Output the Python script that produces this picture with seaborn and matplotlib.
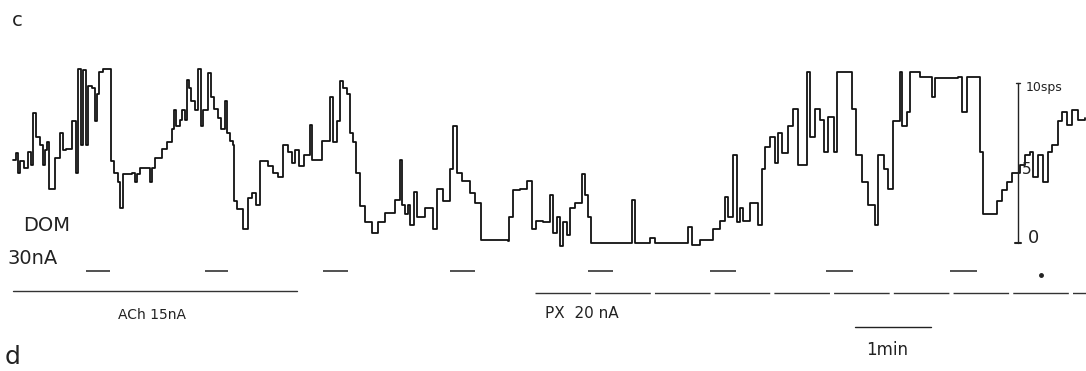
import numpy as np
import pandas as pd
import matplotlib
matplotlib.use("Agg")
import matplotlib.pyplot as plt
import seaborn as sns

# ratemeter trace: time (s) at each step, firing rate (spikes/s) from that time on
t_sec = [0, 2.4, 3.9, 5.5, 8.7, 11.8, 14.2, 15.8, 18.2, 21.3, 23.7, 25.3, 26.8, 28.4,
         33.2, 37.1, 39.5, 41.8, 46.6, 49.7, 51.3, 53.7, 55.3, 57.6, 59.2, 62.4, 64.7,
         66.3, 67.9, 71.1, 77.4, 79.7, 82.9, 84.5, 86.8, 90.0, 93.9, 96.3, 97.9, 100.3,
         108.2, 109.7, 112.1, 117.6, 121.6, 125.5, 127.1, 128.7, 131.8, 133.4, 135.8,
         137.4, 138.9, 140.5, 143.7, 146.1, 148.4, 150.0, 153.9, 156.3, 158.7, 161.8,
         164.2, 167.4, 168.9, 171.3, 173.7, 174.5, 176.8, 181.6, 185.5, 188.7, 191.8,
         195.0, 201.3, 205.3, 209.2, 213.2, 217.1, 220.3, 222.6, 225.8, 229.7, 234.5,
         236.1, 244.0, 250.3, 252.6, 255.8, 258.2, 260.5, 263.7, 266.1, 268.4, 270.8,
         274.0, 277.9, 283.4, 288.2, 293.7, 301.6, 305.5, 307.1, 309.5, 311.8, 313.4,
         316.6, 318.9, 325.3, 331.6, 334.7, 339.5, 345.0, 347.4, 350.5, 354.5, 360.8,
         364.7, 369.5, 390.8, 391.6, 394.7, 400.3, 405.8, 409.7, 412.9, 418.4, 423.9,
         426.3, 429.5, 431.8, 434.2, 437.4, 439.7, 443.7, 449.2, 451.6, 453.9, 456.3,
         488.7, 491.1, 502.9, 506.8, 532.9, 536.1, 542.4, 552.6, 558.2, 562.1, 564.5,
         568.4, 571.6, 573.9, 576.3, 581.8, 588.2, 591.3, 593.7, 597.6, 601.6, 603.9,
         607.1, 611.8, 615.8, 619.7, 626.8, 629.2, 633.2, 637.1, 640.3, 643.4, 648.2,
         650.5, 662.4, 665.5, 670.3, 675.1, 680.5, 682.9, 687.6, 690.8, 694.7, 700.3,
         701.8, 705.8, 708.2, 716.1, 725.5, 727.9, 746.1, 749.2, 753.2, 763.4, 765.8,
         776.8, 780.8, 784.7, 788.7, 795.0, 799.0, 802.9, 805.3, 809.2, 813.2, 817.1,
         820.3, 825.0, 828.2, 832.1, 836.1, 840.8, 846.3]
rate_sps = [5.2, 5.6, 4.4, 5.1, 4.7, 5.7, 4.9, 8.1, 6.6, 6.1, 4.9, 5.8, 6.3, 3.4,
            5.3, 6.9, 5.8, 5.9, 7.6, 4.4, 10.9, 6.1, 10.8, 6.1, 9.8, 9.7, 7.6,
            9.3, 10.7, 10.9, 5.1, 4.4, 3.8, 2.2, 4.3, 4.3, 4.4, 3.8, 4.3, 4.7,
            3.8, 4.7, 5.3, 5.9, 6.3, 7.1, 8.3, 7.3, 7.7, 8.3, 7.7,
            10.2, 9.7, 8.9, 8.3, 10.9, 7.3, 8.3, 10.6, 9.1, 8.4, 7.8,
            7.1, 8.9, 6.9, 6.4, 6.1, 2.6, 2.1, 0.9, 2.8, 3.1, 2.4,
            5.1, 4.8, 4.4, 4.1, 6.1, 5.7, 5.0, 5.8, 4.8, 5.5, 7.4,
            5.2, 6.4, 9.1, 6.3, 7.6, 10.1, 9.7, 9.3, 6.9, 6.3, 4.4,
            2.3, 1.3, 0.6, 1.3, 1.9, 2.7, 5.2, 2.4, 1.8, 2.4, 1.1,
            3.2, 1.6, 2.2, 0.9, 3.4, 2.6, 4.6, 7.3, 4.4, 3.9, 3.1,
            2.5, 0.2, 0.1, 1.6, 3.3, 3.4, 3.9, 0.9, 1.4, 1.3, 3.0,
            0.6, 1.6, -0.2, 1.3, 0.5, 2.2, 2.5, 4.3, 3.0, 1.6, 0.0,
            2.7, 0.0, 0.3, 0.0, 1.0, -0.1, 0.2, 0.9, 1.4, 2.9, 1.6,
            5.5, 1.3, 2.2, 1.4, 2.5, 1.1, 4.6, 6.0, 6.6, 5.0, 6.9,
            5.6, 7.3, 8.4, 4.9, 10.7, 6.6, 8.4, 7.7, 5.7, 7.9, 5.7,
            10.7, 8.4, 5.5, 3.8, 2.4, 1.1, 5.5, 4.6, 3.4, 7.6, 10.7,
            7.3, 8.2, 10.7, 10.4, 9.1, 10.3, 10.4, 8.2, 10.4, 5.7, 1.8,
            2.6, 3.3, 3.8, 4.4, 4.9, 5.5, 5.7, 4.1, 5.5, 3.8, 5.7,
            6.1, 7.6, 8.2, 7.4, 8.3, 7.7, 7.8]

# DOM 30 nA pulses (start, end in s)
dom_on = [57.6, 151.6, 244.7, 345.0, 453.9, 550.3, 641.8, 739.7]
dom_off = [76.6, 169.7, 264.5, 364.7, 473.7, 570.8, 663.2, 761.1]
ach_span = [0, 224.2]      # ACh 15 nA
px_span = [412.1, 860.0]   # PX 20 nA

df = pd.DataFrame({"t": t_sec, "rate": rate_sps})

sns.set_theme(style="white")
fig = plt.figure(figsize=(10.86, 3.71), dpi=100)
ax = fig.add_axes([0, 0, 1, 1])

sns.lineplot(data=df, x="t", y="rate", ax=ax, color="#111111", lw=1.3,
             drawstyle="steps-post", estimator=None, sort=False)

# drug / current markers below trace
ax.hlines([-1.75] * len(dom_on), dom_on, dom_off, color="#222222", lw=1.1)
ax.plot([811.6], [-2.0], "o", color="#222222", ms=2.5)
ax.plot(ach_span, [-3.0, -3.0], color="#333333", lw=1.0)
ax.plot(px_span, [-3.1, -3.1], color="#333333", lw=1.0, ls=(0, (40, 3)))

# 1 min time bar and 10 sps scale bar
ax.plot([664.7, 724.7], [-5.25, -5.25], color="#222222", lw=1.0)
ax.plot([793.4, 793.4], [0, 10], color="#222222", lw=1.0)
ax.plot([791.8, 795.0], [10, 10], color="#222222", lw=1.0)
ax.plot([791.0, 795.8], [0, 0], color="#222222", lw=1.5)

txt = dict(color="#222222", family="DejaVu Sans")
ax.text(-0.8, 13.9, "c", fontsize=14, ha="left", va="center", **txt)
ax.text(-7.0, -7.1, "d", fontsize=18, ha="left", va="center", **txt)
ax.text(8.0, 1.1, "DOM", fontsize=14, ha="left", va="center", **txt)
ax.text(-4.7, -0.94, "30nA", fontsize=14, ha="left", va="center", **txt)
ax.text(109.7, -4.5, "ACh 15nA", fontsize=10, ha="center", va="center", **txt)
ax.text(420.0, -4.4, "PX  20 nA", fontsize=11, ha="left", va="center", **txt)
ax.text(690.0, -6.7, "1min", fontsize=12, ha="center", va="center", **txt)
ax.text(799.0, 9.7, "10sps", fontsize=9, ha="left", va="center", **txt)
ax.text(796.6, 4.6, "5", fontsize=11, ha="left", va="center", **txt)
ax.text(801.3, 0.3, "0", fontsize=13, ha="left", va="center", **txt)

ax.set_xlim(-10.3, 847.0)
ax.set_ylim(-8.0, 15.19)
ax.axis("off")
fig.savefig("out.png", dpi=100, facecolor="white")
